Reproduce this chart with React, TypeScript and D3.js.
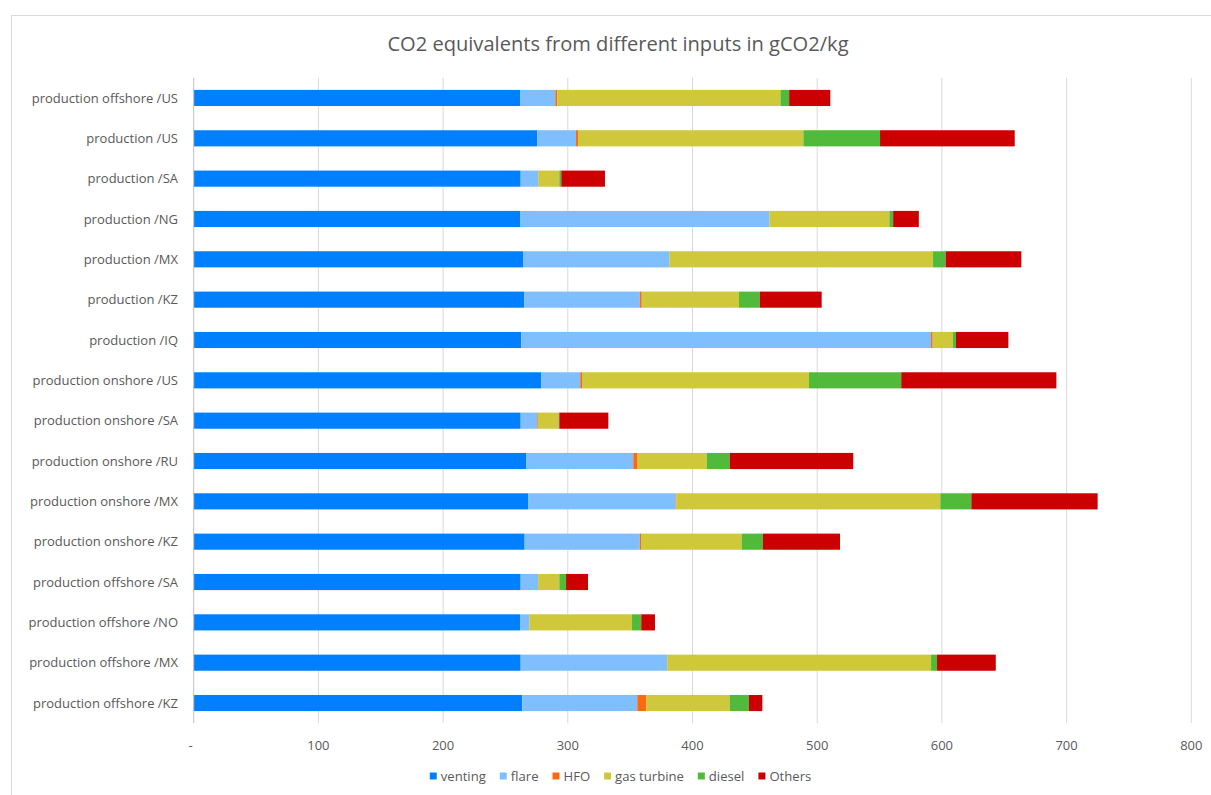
import React from "react";
import * as d3 from "d3";

const categories = [
  "production offshore /US",
  "production /US",
  "production /SA",
  "production /NG",
  "production /MX",
  "production /KZ",
  "production /IQ",
  "production onshore /US",
  "production onshore /SA",
  "production onshore /RU",
  "production onshore /MX",
  "production onshore /KZ",
  "production offshore /SA",
  "production offshore /NO",
  "production offshore /MX",
  "production offshore /KZ",
];

const seriesNames = ["venting", "flare", "HFO", "gas turbine", "diesel", "Others"];
const seriesColors = ["#0080FF", "#80BFFF", "#F96B0E", "#CFC83A", "#52BA3B", "#CC0000"];

const venting = [262, 275.6, 262.2, 261.7, 264.1, 265.2, 262.7, 278.8, 262.2, 266.5, 268.1, 265.4, 262.2, 261.7, 262.2, 263.5];
const flare = [28, 31, 14, 200, 117.3, 92.5, 328.6, 31.2, 13.4, 86, 118.4, 92.3, 13.9, 7.4, 117.4, 92.2];
const hfo = [1.5, 1.6, 0.3, 0.1, 0.1, 1.6, 1.3, 1.4, 0.5, 3.5, 0.4, 1, 0.1, 0.1, 0.1, 7.3];
const gasTurbine = [179, 180.7, 16.7, 96.1, 211.4, 78, 16.3, 182, 16.5, 55.4, 211.8, 80.7, 17, 82.3, 211.6, 66.8];
const diesel = [7, 61.5, 1.6, 3, 10.1, 16.6, 2.4, 74, 0.6, 18.4, 24.9, 17.1, 5.4, 7.4, 4.8, 15.5];
const others = [33, 108, 35, 20.6, 60.7, 49.7, 42, 124.4, 39.3, 99.1, 101.3, 61.8, 17.6, 11, 47.1, 10.7];

const xTicks = [0, 100, 200, 300, 400, 500, 600, 700, 800];
const title = "CO2 equivalents from different inputs in gCO2/kg";

const FONT = "'Open Sans', 'Liberation Sans', Arial, sans-serif";
const TEXT = "#595959";

function measure(text: string, size: number) {
  if (typeof document === "undefined") return text.length * size * 0.5;
  const c = document.createElement("canvas");
  const ctx = c.getContext("2d");
  if (!ctx) return text.length * size * 0.5;
  ctx.font = `${size}px ${FONT}`;
  return ctx.measureText(text).width;
}

export default function App() {
  const W = 1211;
  const H = 795;
  const values = [venting, flare, hfo, gasTurbine, diesel, others];
  const rows = categories.map((c, i) => {
    const r: any = { cat: c };
    seriesNames.forEach((s, k) => (r[s] = values[k][i]));
    return r;
  });
  const stacked = d3.stack<any>().keys(seriesNames)(rows);

  const x = d3.scaleLinear().domain([0, 800]).range([193.7, 1191.3]);
  const y = d3
    .scaleBand<string>()
    .domain(categories)
    .range([77.8, 723.2])
    .paddingInner(0.6)
    .paddingOuter(0.3);

  const legendSize = 13.1;
  const sq = 7;
  const sqGap = 4;
  const itemGap = 14;
  const widths = seriesNames.map((s) => sq + sqGap + measure(s, legendSize));
  const totalW = d3.sum(widths) + itemGap * (seriesNames.length - 1);
  let lx = 620.5 - totalW / 2;
  const legendX = widths.map((w) => {
    const p = lx;
    lx += w + itemGap;
    return p;
  });
  const legendY = 776;

  return (
    <div style={{ position: "absolute", left: 0, top: 0 }}>
      <svg width={W} height={H} style={{ display: "block", background: "#fff" }}>
        <rect x={11.5} y={15.5} width={1230} height={820} fill="#fff" stroke="#d9d9d9" strokeWidth={1} />
        <text x={618} y={51} textAnchor="middle" fontFamily={FONT} fontSize={20.1} fill={TEXT}>
          {title}
        </text>
        {xTicks.map((t) =>
          t === 0 ? null : (
            <line key={t} x1={x(t)} x2={x(t)} y1={77.8} y2={723.2} stroke="#d9d9d9" strokeWidth={1} />
          )
        )}
        {stacked.map((layer, k) => (
          <g key={seriesNames[k]} fill={seriesColors[k]}>
            {layer.map((d, i) => (
              <rect
                key={i}
                x={x(d[0])}
                y={y(categories[i])}
                width={Math.max(0, x(d[1]) - x(d[0]))}
                height={y.bandwidth()}
              />
            ))}
          </g>
        ))}
        <line x1={x(0)} x2={x(0)} y1={77.8} y2={723.2} stroke="#bfbfbf" strokeWidth={1} />
        {categories.map((c) => (
          <text
            key={c}
            x={178}
            y={(y(c) as number) + y.bandwidth() / 2}
            dy="0.35em"
            textAnchor="end"
            fontFamily={FONT}
            fontSize={13}
            fill={TEXT}
          >
            {c}
          </text>
        ))}
        {xTicks.map((t) => (
          <text
            key={t}
            x={x(t) - (t === 0 ? 3 : 0)}
            y={745}
            dy="0.35em"
            textAnchor="middle"
            fontFamily={FONT}
            fontSize={13}
            fill={TEXT}
          >
            {t === 0 ? "-" : d3.format("d")(t)}
          </text>
        ))}
        {seriesNames.map((s, k) => (
          <g key={s} transform={`translate(${legendX[k]},${legendY})`}>
            <rect x={0} y={-sq / 2} width={sq} height={sq} fill={seriesColors[k]} />
            <text x={sq + sqGap} y={0} dy="0.35em" fontFamily={FONT} fontSize={legendSize} fill={TEXT}>
              {s}
            </text>
          </g>
        ))}
      </svg>
    </div>
  );
}
